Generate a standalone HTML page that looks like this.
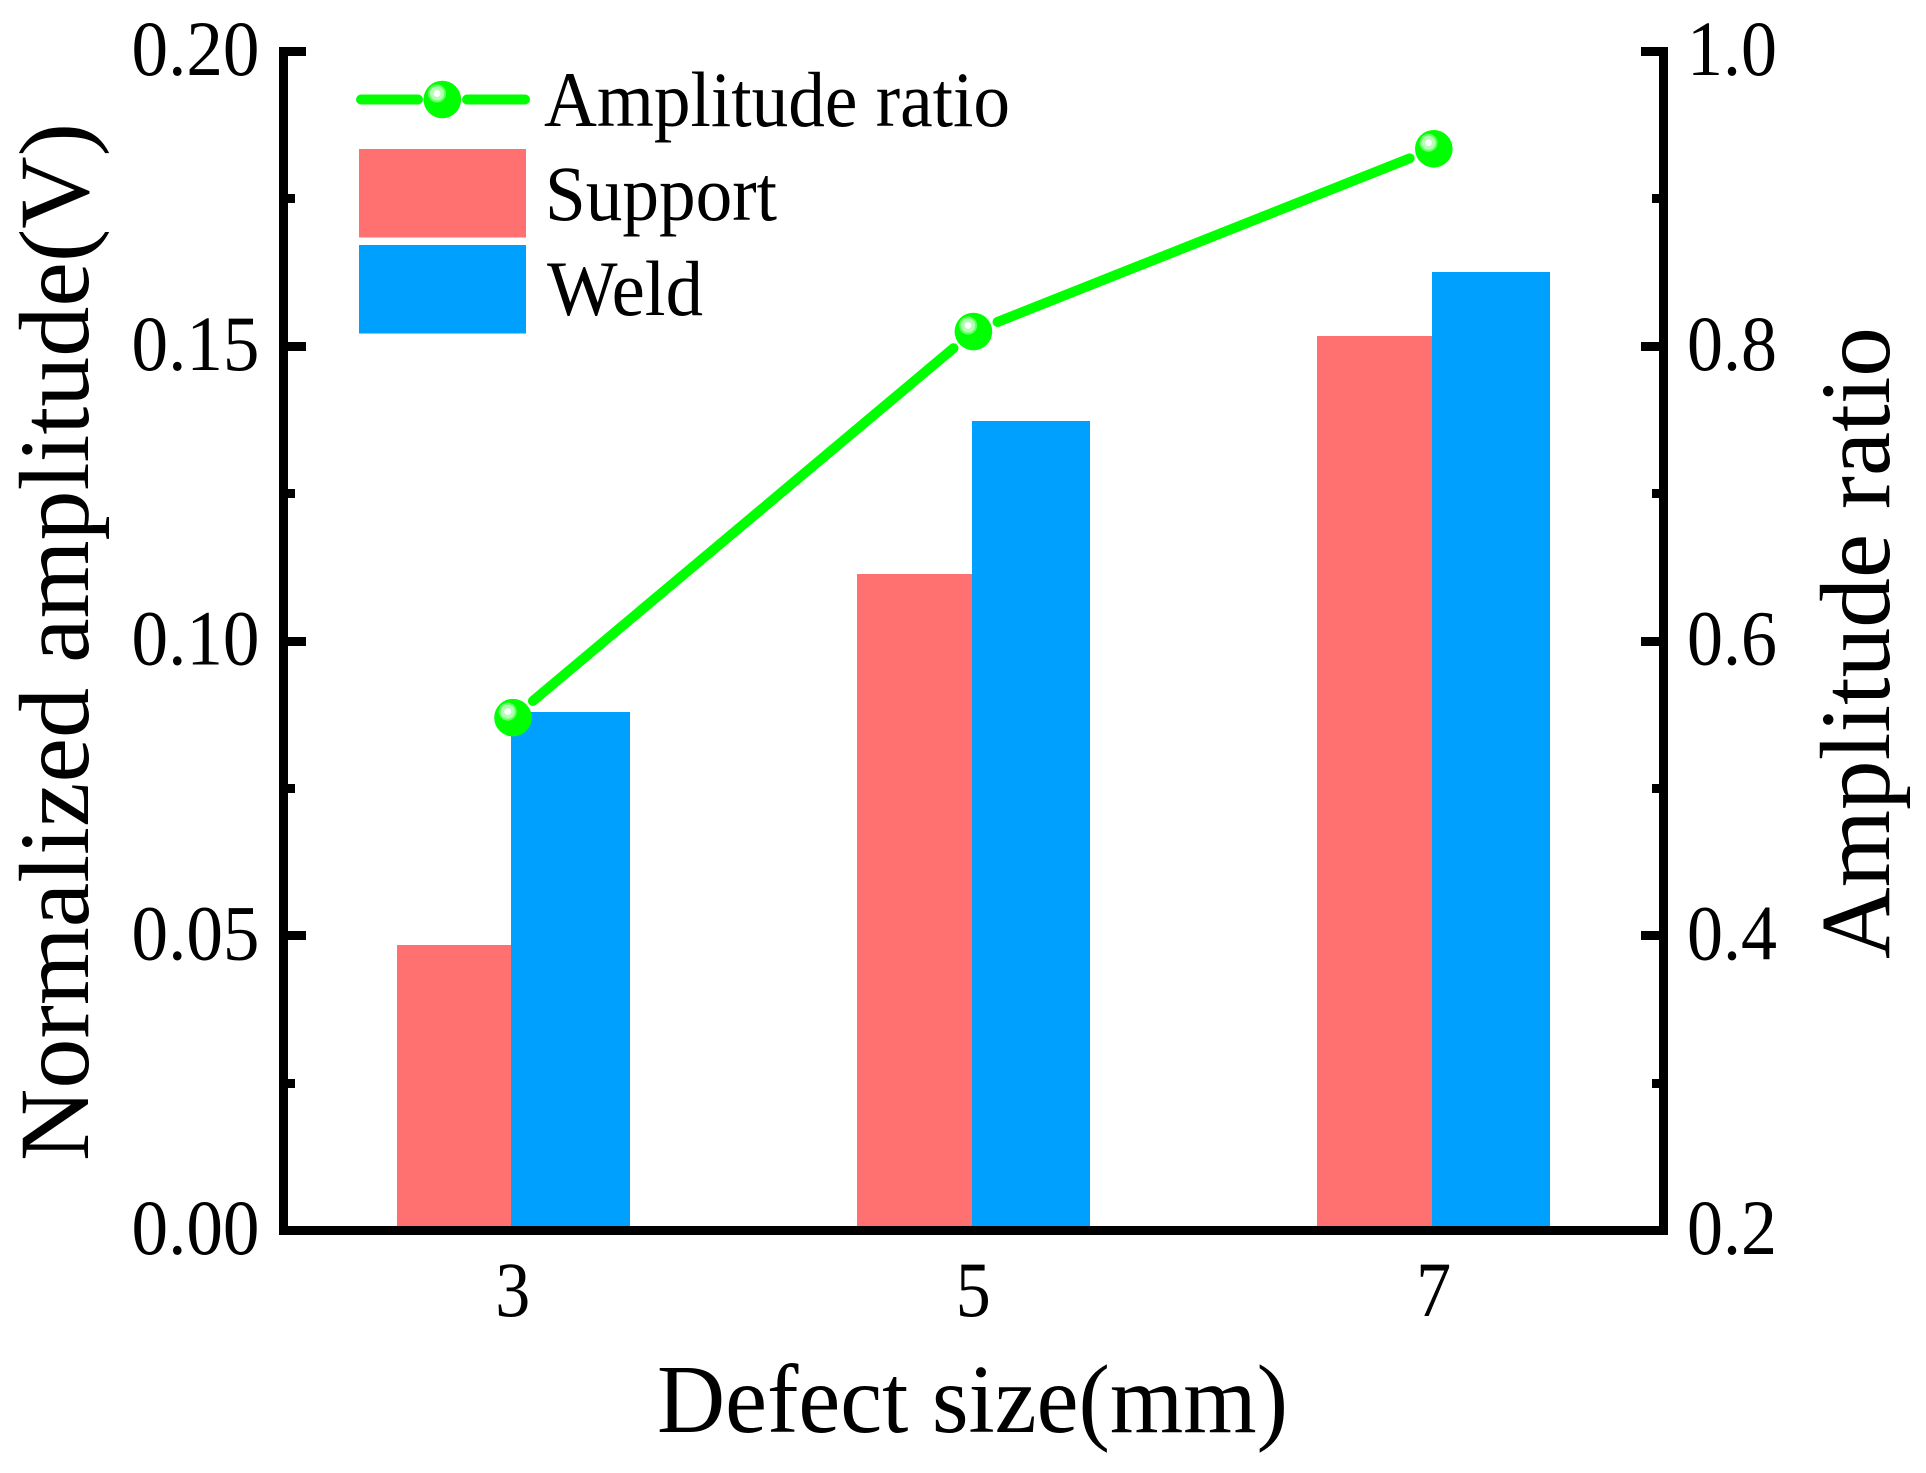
<!DOCTYPE html>
<html lang="en">
<head>
<meta charset="utf-8">
<title>Normalized amplitude and amplitude ratio by defect size</title>
<style>
html,body{margin:0;padding:0;background:#fff;width:1926px;height:1473px;overflow:hidden}
svg{display:block}
text{font-family:"Liberation Serif","Times New Roman",serif;fill:#000}
</style>
</head>
<body>
<svg id="chart" xmlns="http://www.w3.org/2000/svg" width="1926" height="1473" viewBox="0 0 1926 1473">
  <rect x="0" y="0" width="1926" height="1473" fill="#ffffff"/>
  <g id="bars" shape-rendering="crispEdges"></g>
  <g id="line"></g>
  <g id="axes" shape-rendering="crispEdges"></g>
  <g id="labels"></g>

  <text transform="translate(88,1161) rotate(-90)" font-size="100" textLength="1038" lengthAdjust="spacingAndGlyphs">Normalized amplitude(V)</text>
  <text transform="translate(1889,959) rotate(-90)" font-size="100" textLength="632" lengthAdjust="spacingAndGlyphs">Amplitude ratio</text>
  <text x="657" y="1432" font-size="98" textLength="631" lengthAdjust="spacingAndGlyphs">Defect size(mm)</text>

  <g>
    <g>
      <line x1="361" y1="99.5" x2="418" y2="99.5" stroke="#00ff00" stroke-width="10" stroke-linecap="round"/>
      <line x1="467" y1="99.5" x2="525" y2="99.5" stroke="#00ff00" stroke-width="10" stroke-linecap="round"/>
      <circle cx="442.3" cy="99.5" r="18.8" fill="#00ff00"/>
      <circle cx="437" cy="93.5" r="9" fill="#66ff66"/>
      <circle cx="437" cy="93.5" r="7" fill="#b4ffb4"/>
      <circle cx="437" cy="93.5" r="3.4" fill="#ffffff"/>
      <text x="544" y="126" font-size="78" textLength="466" lengthAdjust="spacingAndGlyphs">Amplitude ratio</text>
    </g>
    <g>
      <rect x="359" y="149" width="167" height="88.5" fill="#ff7070"/>
      <text x="545" y="220" font-size="78" textLength="232" lengthAdjust="spacingAndGlyphs">Support</text>
    </g>
    <g>
      <rect x="359" y="245" width="167" height="88.5" fill="#00a0ff"/>
      <text x="547" y="315" font-size="78" textLength="156" lengthAdjust="spacingAndGlyphs">Weld</text>
    </g>
  </g>
</svg>
<script>
// Chart data
const categories = [3, 5, 7];
const supportValues = [0.0484, 0.1114, 0.1517];
const weldValues = [0.0880, 0.1373, 0.1626];
const ratioValues = [0.548, 0.810, 0.934];
const leftTickValues = [0, 0.05, 0.10, 0.15, 0.20];
const leftTickLabels = ['0.00', '0.05', '0.10', '0.15', '0.20'];
const leftMinorValues = [0.025, 0.075, 0.125, 0.175];
const rightTickValues = [0.2, 0.4, 0.6, 0.8, 1.0];
const rightTickLabels = ['0.2', '0.4', '0.6', '0.8', '1.0'];
const rightMinorValues = [0.3, 0.5, 0.7, 0.9];

const NS = 'http://www.w3.org/2000/svg';
const plot = { left: 283.5, right: 1663, top: 51.5, bottom: 1230.5 };
const leftDomain = [0, 0.2];
const rightDomain = [0.2, 1.0];

function xScale(v) { return 511.3 + (v - 3) * 230.2; }
function yLeft(v) { return plot.bottom - (v - leftDomain[0]) / (leftDomain[1] - leftDomain[0]) * (plot.bottom - plot.top); }
function yRight(v) { return plot.bottom - (v - rightDomain[0]) / (rightDomain[1] - rightDomain[0]) * (plot.bottom - plot.top); }

function make(tag, attrs, parent) {
  const el = document.createElementNS(NS, tag);
  for (const k in attrs) el.setAttribute(k, attrs[k]);
  parent.appendChild(el);
  return el;
}

const barsG = document.getElementById('bars');
const lineG = document.getElementById('line');
const axesG = document.getElementById('axes');
const labelsG = document.getElementById('labels');

// Bars: pink ends exactly where blue begins, both snapped to whole pixels
categories.forEach(function (c, i) {
  const cx = xScale(c);
  const xLeft = Math.round(cx - 114.7);
  const xMid = Math.round(cx);
  const xRight = Math.round(cx + 118.2);
  const ys = Math.round(yLeft(supportValues[i]));
  const s = make('rect', { x: xLeft, y: ys, width: xMid - xLeft, height: plot.bottom - ys, fill: '#ff7070' }, barsG);
  
  
  const yw = Math.round(yLeft(weldValues[i]));
  const w = make('rect', { x: xMid, y: yw, width: xRight - xMid, height: plot.bottom - yw, fill: '#00a0ff' }, barsG);
  
  
});

// Ratio line: segments stop short of the markers, leaving a small gap
const gap = 26;
const markerDX = 1.7;
categories.forEach(function (c, i) {
  if (i === categories.length - 1) return;
  const x1 = xScale(c) + markerDX, y1 = yRight(ratioValues[i]);
  const x2 = xScale(categories[i + 1]) + markerDX, y2 = yRight(ratioValues[i + 1]);
  const len = Math.hypot(x2 - x1, y2 - y1);
  const ux = (x2 - x1) / len, uy = (y2 - y1) / len;
  const seg = make('line', { x1: x1 + ux * gap, y1: y1 + uy * gap, x2: x2 - ux * gap, y2: y2 - uy * gap, stroke: '#00ff00', 'stroke-width': 10, 'stroke-linecap': 'round' }, lineG);
  
  
});
categories.forEach(function (c, i) {
  const x = xScale(c) + markerDX, y = yRight(ratioValues[i]);
  const g = make('g', {}, lineG);
  
  
  const base = make('circle', { cx: x, cy: y, r: 18.8, fill: '#00ff00' }, g);
  
  
  const outer = make('circle', { cx: x - 5.3, cy: y - 6, r: 9, fill: '#66ff66' }, g);
  
  
  const mid = make('circle', { cx: x - 5.3, cy: y - 6, r: 7, fill: '#b4ffb4' }, g);
  
  
  const core = make('circle', { cx: x - 5.3, cy: y - 6, r: 3.4, fill: '#ffffff' }, g);
  
  
});

// Axis lines (left, bottom, right)
const leftAxis = make('rect', { x: 279, y: 47, width: 9, height: 1188, fill: '#000' }, axesG);


const rightAxis = make('rect', { x: 1659, y: 47, width: 9, height: 1188, fill: '#000' }, axesG);


const bottomAxis = make('rect', { x: 279, y: 1226, width: 1389, height: 9, fill: '#000' }, axesG);



// Tick marks
const tickH = 9;
leftTickValues.forEach(function (v) {
  const t = make('rect', { x: 288, y: Math.round(yLeft(v) - tickH / 2), width: 18, height: tickH, fill: '#000' }, axesG);
  
  
});
leftMinorValues.forEach(function (v) {
  const t = make('rect', { x: 288, y: Math.round(yLeft(v) - tickH / 2), width: 7, height: tickH, fill: '#000' }, axesG);
  
  
});
rightTickValues.forEach(function (v) {
  const t = make('rect', { x: 1641, y: Math.round(yRight(v) - tickH / 2), width: 18, height: tickH, fill: '#000' }, axesG);
  
  
});
rightMinorValues.forEach(function (v) {
  const t = make('rect', { x: 1652, y: Math.round(yRight(v) - tickH / 2), width: 7, height: tickH, fill: '#000' }, axesG);
  
  
});

// Tick labels
leftTickValues.forEach(function (v, i) {
  const t = make('text', { x: 259.5, y: yLeft(v) + 23.5, 'font-size': 78, 'text-anchor': 'end', textLength: 128, lengthAdjust: 'spacingAndGlyphs' }, labelsG);
  t.textContent = leftTickLabels[i];
  
  
});
rightTickValues.forEach(function (v, i) {
  const t = make('text', { x: 1687, y: yRight(v) + 23.5, 'font-size': 78, textLength: 90, lengthAdjust: 'spacingAndGlyphs' }, labelsG);
  t.textContent = rightTickLabels[i];
  
  
});
categories.forEach(function (c) {
  const t = make('text', { x: xScale(c) + 1.5, y: 1316, 'font-size': 78, 'text-anchor': 'middle', textLength: 35, lengthAdjust: 'spacingAndGlyphs' }, labelsG);
  t.textContent = String(c);
  
  
});
</script>
</body>
</html>
